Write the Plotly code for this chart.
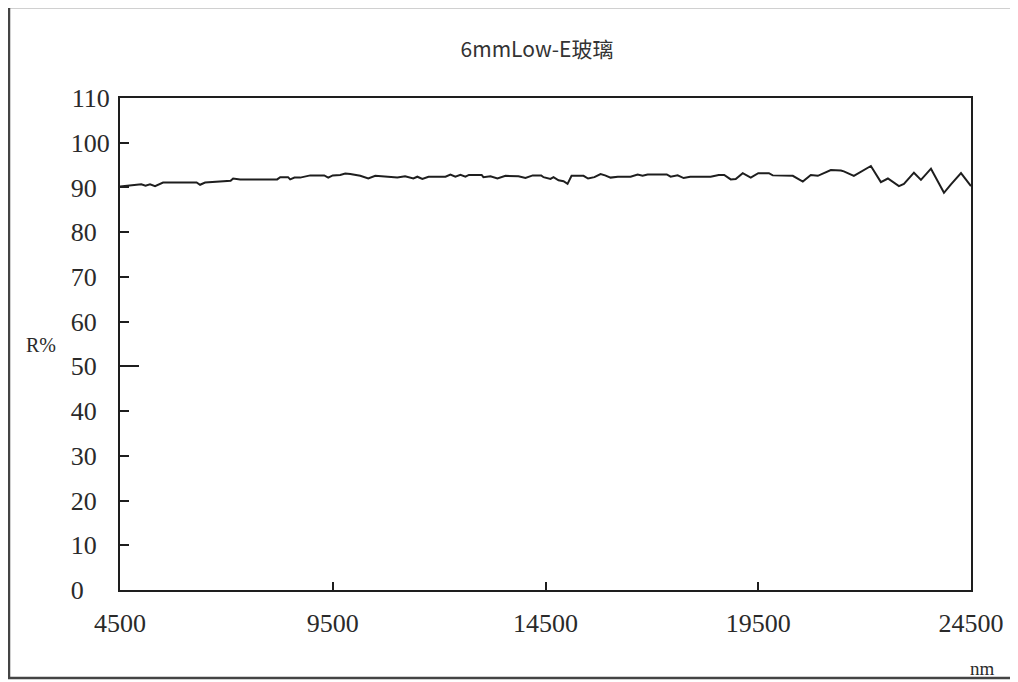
import plotly.graph_objects as go

# ---- data ----
wavelength_nm = [4500, 4806, 5000, 5100, 5206, 5324, 5512, 6300, 6382, 6500, 6806, 7100, 7159, 7324,
                 8194, 8265, 8450, 8500, 8600, 8735, 8971, 9300, 9394, 9500, 9676, 9794, 9912, 10147,
                 10335, 10500, 11018, 11200, 11394, 11488, 11606, 11750, 12150, 12265, 12382, 12500,
                 12618, 12700, 13000, 13041, 13206, 13371, 13559, 13865, 14029, 14200, 14400, 14453,
                 14618, 14688, 14806, 14924, 15018, 15112, 15394, 15500, 15650, 15794, 15900, 16029,
                 16200, 16500, 16665, 16782, 16900, 17350, 17441, 17606, 17747, 17900, 18100, 18382,
                 18571, 18700, 18853, 18971, 19135, 19324, 19500, 19750, 19841, 20218, 20312, 20547,
                 20735, 20900, 21206, 21441, 21512, 21747, 21912, 22147, 22382, 22547, 22806, 22924,
                 23159, 23324, 23559, 23865, 24029, 24265, 24500]
reflectance = [90.2, 90.5, 90.7, 90.4, 90.7, 90.3, 91.1, 91.1, 90.6, 91.1, 91.3, 91.5, 92.0, 91.8,
               91.8, 92.3, 92.3, 91.8, 92.2, 92.2, 92.7, 92.7, 92.2, 92.7, 92.8, 93.1, 93.0, 92.6,
               92.0, 92.6, 92.2, 92.5, 92.0, 92.4, 91.9, 92.4, 92.4, 92.9, 92.4, 92.8,
               92.4, 92.8, 92.8, 92.3, 92.5, 92.0, 92.6, 92.5, 92.1, 92.7, 92.7, 92.3,
               91.9, 92.3, 91.6, 91.4, 90.8, 92.6, 92.6, 92.0, 92.3, 93.0, 92.7, 92.2,
               92.4, 92.4, 92.9, 92.6, 92.9, 92.9, 92.4, 92.7, 92.1, 92.4, 92.4, 92.4,
               92.8, 92.8, 91.8, 91.9, 93.2, 92.2, 93.2, 93.2, 92.7, 92.7, 92.6, 91.3,
               92.8, 92.6, 93.9, 93.8, 93.6, 92.6, 93.5, 94.8, 91.2, 92.0, 90.3, 90.8,
               93.3, 91.7, 94.2, 88.8, 90.7, 93.2, 90.3]

x_ticks = [4500, 9500, 14500, 19500, 24500]
x_tick_labels = ["4500", "9500", "14500", "19500", "24500"]
y_ticks = [0, 10, 20, 30, 40, 50, 60, 70, 80, 90, 100, 110]
y_tick_labels = ["0", "10", "20", "30", "40", "50", "60", "70", "80", "90", "100", "110"]
long_tick = [50]

title_text = "6mmLow-E玻璃"
x_title = "nm"
y_title = "R%"

# ---- figure (page body adds an 8px margin, so the figure is shifted) ----
OFF = 8
W, H = 1018 - OFF, 682 - OFF
L, R, T, B = 120 - OFF, 47, 98 - OFF, 92
pw, ph = W - L - R, H - T - B

def px_x(p):
    return (p - OFF - L) / pw

def px_y(p):
    return (H - B - (p - OFF)) / ph

FIG = "\u2007"
padded = [lab + FIG * (3 - len(lab)) for lab in y_tick_labels]

ink = "#1e1e1e"
tick_font = dict(family="Liberation Serif", size=26, color="#2a2a2a")

fig = go.Figure()
fig.add_trace(go.Scatter(x=wavelength_nm, y=reflectance, mode="lines",
                         line=dict(color=ink, width=2), showlegend=False, hoverinfo="x+y"))
fig.add_trace(go.Scatter(x=[None], y=[None], yaxis="y2", showlegend=False, hoverinfo="skip"))

fig.update_layout(
    width=W, height=H,
    margin=dict(l=L, r=R, t=T, b=B),
    paper_bgcolor="white", plot_bgcolor="white",
    title=dict(text=title_text, x=(537 - OFF) / W, xanchor="center",
               y=1 - (50 - OFF) / H, yanchor="middle",
               font=dict(family="Noto Sans CJK SC", size=21, color="#333333")),
    xaxis=dict(range=[4500, 24500], tickvals=x_ticks, ticktext=x_tick_labels,
               showgrid=False, zeroline=False, showline=True, linecolor=ink, linewidth=2,
               mirror=True, ticks="inside", ticklen=8, tickwidth=1.5, tickcolor=ink,
               tickfont=tick_font, ticklabelstandoff=9),
    yaxis=dict(range=[0, 110], tickvals=y_ticks, ticktext=padded,
               showgrid=False, zeroline=False, showline=True, linecolor=ink, linewidth=2,
               mirror=True, ticks="inside", ticklen=9, tickwidth=1.5, tickcolor=ink,
               tickfont=tick_font, ticklabelstandoff=3),
    yaxis2=dict(range=[0, 110], overlaying="y", side="left", tickvals=long_tick,
                showticklabels=False, showgrid=False, zeroline=False, showline=False,
                ticks="inside", ticklen=19, tickwidth=1.5, tickcolor=ink),
    annotations=[
        dict(text=y_title, xref="paper", yref="paper", x=px_x(41), y=px_y(345),
             xanchor="center", yanchor="middle", showarrow=False,
             font=dict(family="Liberation Serif", size=20, color="#2a2a2a")),
        dict(text=x_title, xref="paper", yref="paper", x=px_x(983), y=px_y(668),
             xanchor="center", yanchor="middle", showarrow=False,
             font=dict(family="Liberation Serif", size=19, color="#2a2a2a")),
    ],
    shapes=[
        dict(type="rect", xref="paper", yref="paper",
             x0=px_x(9), x1=px_x(1030), y0=px_y(678), y1=px_y(7),
             line=dict(color="#444444", width=2.5), layer="below"),
    ],
)

fig.write_html("out.html")
